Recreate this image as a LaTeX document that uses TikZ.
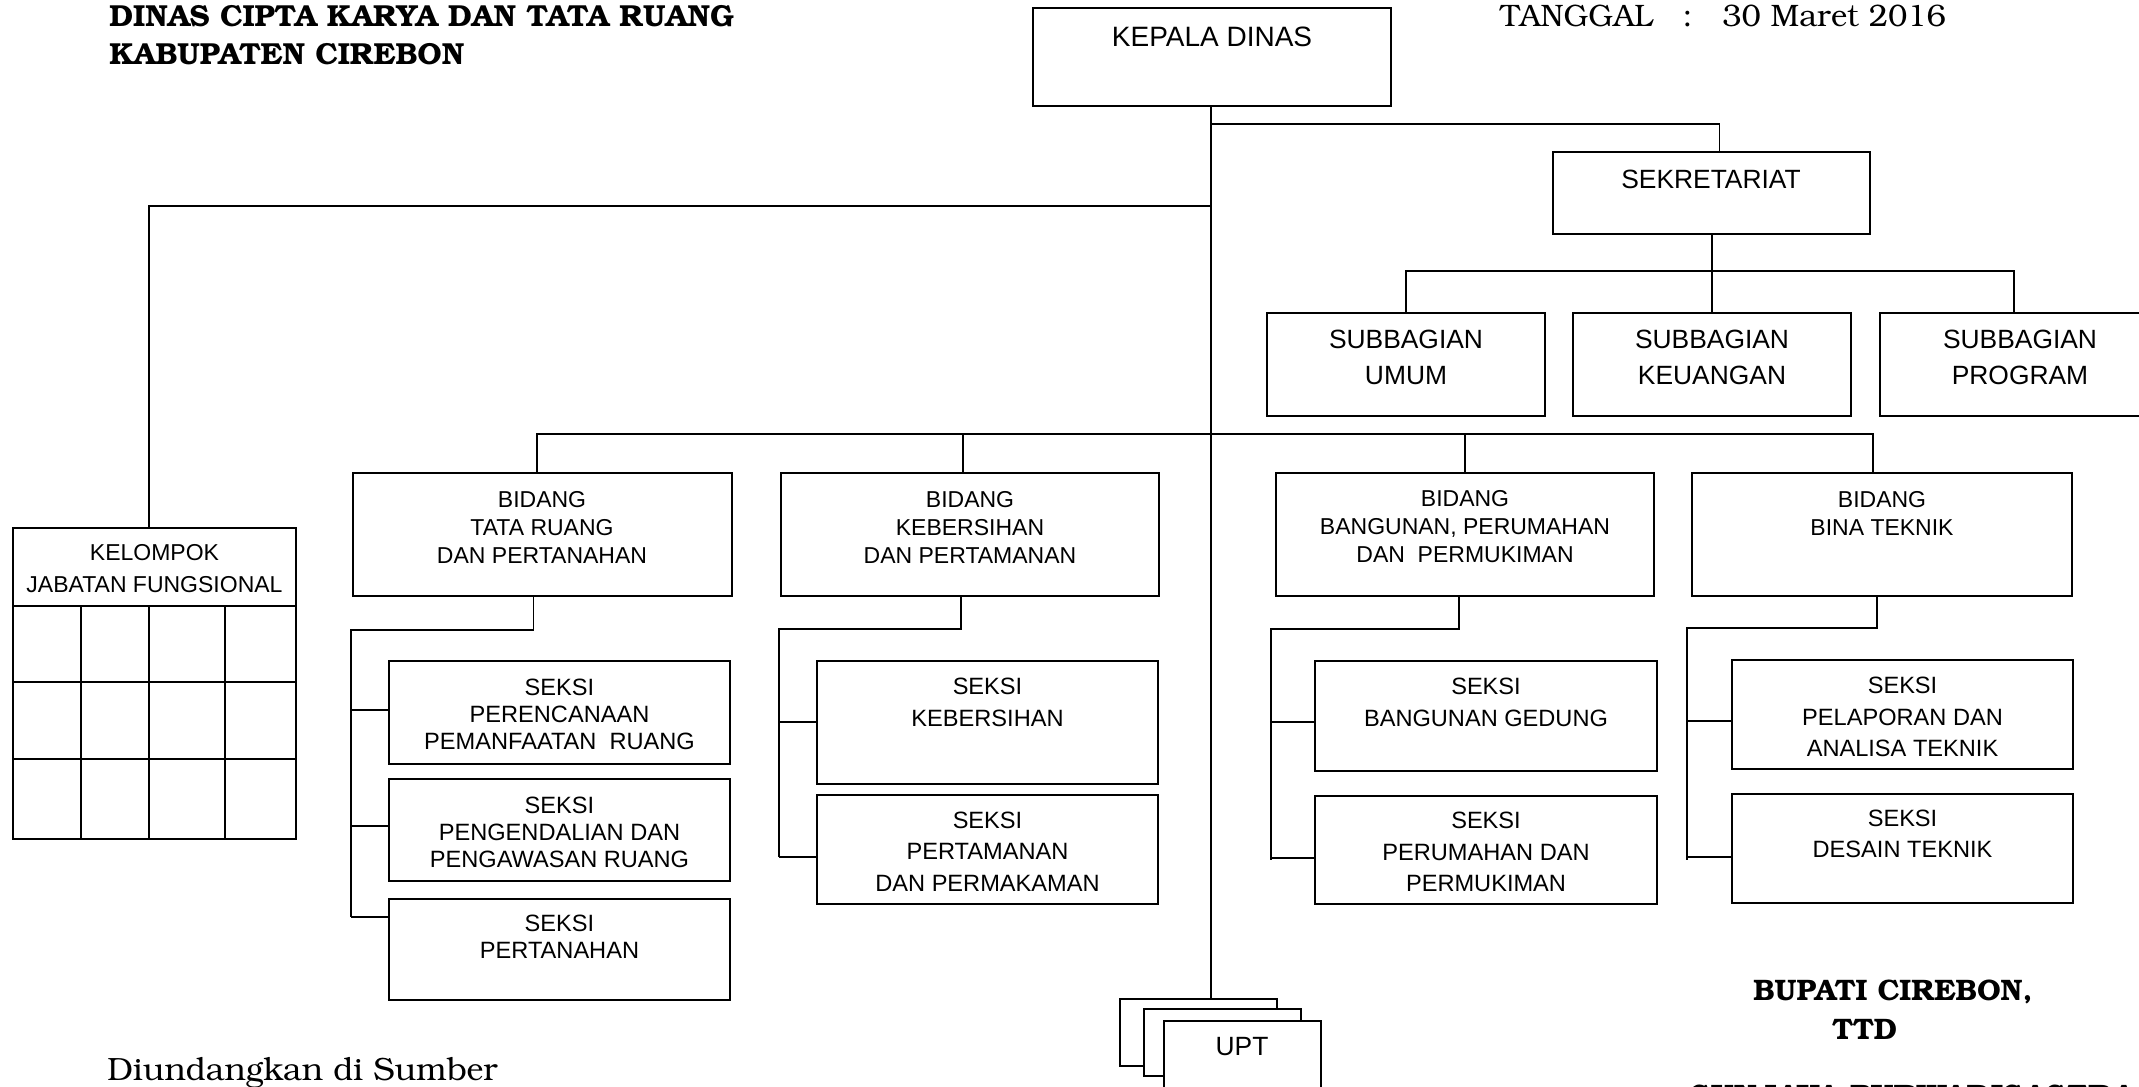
\documentclass[tikz,border=0pt]{standalone}
\usepackage[T1]{fontenc}
\usepackage{fontspec}
\newfontfamily\arial{Liberation Sans}
\newcommand\bkm{\fontencoding{T1}\fontfamily{pbk}\selectfont}
\newcommand\orgbox[5]{\node[box, minimum width={(#4-#2)*0.5pt}, minimum height={(#5-#3)*0.5pt}] (#1) at ({(#2+#4)/2},{(#3+#5)/2}) {};}
\begin{document}
\begin{tikzpicture}[x=0.5pt,y=-0.5pt,
  box/.style={draw, line width=0.9pt, inner sep=0pt, fill=white},
  conn/.style={line width=0.9pt},
  lbl/.style={align=center, inner sep=0pt},
  fA/.style={font=\arial\fontsize{14}{17}\selectfont},
  fB/.style={font=\arial\fontsize{13.2}{18}\selectfont},
  fC/.style={font=\arial\fontsize{11.5}{14}\selectfont},
  fK/.style={font=\arial\fontsize{11.5}{16}\selectfont},
  fS/.style={font=\arial\fontsize{11.8}{13.5}\selectfont},
  fT/.style={font=\arial\fontsize{11.8}{15.7}\selectfont},
  serifB/.style={inner sep=0pt, anchor=base west, font=\bkm\bfseries\fontsize{14.8}{17}\selectfont},
  serifR/.style={inner sep=0pt, anchor=base west, font=\bkm\fontsize{15.5}{17}\selectfont}]
\useasboundingbox (0,0) rectangle (2139,1086);
\fill[white] (0,0) rectangle (2139,1086);

% boxes
\orgbox{kd}{1033}{8}{1391}{106}
\orgbox{sek}{1553}{152}{1870}{234}
\orgbox{sbU}{1267}{313}{1545}{416}
\orgbox{sbK}{1573}{313}{1851}{416}
\orgbox{sbP}{1880}{313}{2158}{416}
\orgbox{kel}{13}{528}{296}{839}
\orgbox{bTR}{353}{473}{732}{596}
\orgbox{bKeb}{781}{473}{1159}{596}
\orgbox{bBang}{1276}{473}{1654}{596}
\orgbox{bBina}{1692}{473}{2072}{596}
\orgbox{s11}{389}{661}{730}{764}
\orgbox{s12}{389}{779}{730}{881}
\orgbox{s13}{389}{899}{730}{1000}
\orgbox{s21}{817}{661}{1158}{784}
\orgbox{s22}{817}{795}{1158}{904}
\orgbox{s31}{1315}{661}{1657}{771}
\orgbox{s32}{1315}{796}{1657}{904}
\orgbox{s41}{1732}{660}{2073}{769}
\orgbox{s42}{1732}{794}{2073}{903}
\orgbox{u1}{1120}{999}{1277}{1066}
\orgbox{u2}{1144}{1009}{1301}{1076}
\orgbox{u3}{1164}{1021}{1321}{1100}

% kelompok grid
\draw[conn] (13,606) -- (296,606);
\draw[conn] (13,682) -- (296,682);
\draw[conn] (13,759) -- (296,759);
\draw[conn] (81,606) -- (81,839);
\draw[conn] (149,606) -- (149,839);
\draw[conn] (225,606) -- (225,839);

% helper coordinates
\coordinate (ySek) at (0,124);
\coordinate (yKel) at (0,206);
\coordinate (ySub) at (0,271);
\coordinate (yBid) at (0,434);

% connectors
\draw[conn] ([xshift=-0.5pt]kd.south) -- ([xshift=-0.5pt]kd.south |- u1.north);
\draw[conn] ([xshift=-0.5pt]kd.south |- ySek) -| ([xshift=4pt]sek.north);
\draw[conn] ([xshift=-0.5pt]kd.south |- yKel) -| ([xshift=-2.75pt]kel.north);
\draw[conn] ([xshift=0.25pt]sek.south) -- ([xshift=0.25pt]sek.south |- ySub);
\draw[conn] (sbU.north) |- ([xshift=-2.5pt]sbP.north |- ySub) -- ([xshift=-2.5pt]sbP.north);
\draw[conn] (sbK.north) -- (sbK.north |- ySub);
\draw[conn] ([xshift=-2.75pt]bTR.north) |- ([xshift=-4.5pt]bBina.north |- yBid) -- ([xshift=-4.5pt]bBina.north);
\draw[conn] ([xshift=-3.5pt]bKeb.north) -- ([xshift=-3.5pt]bKeb.north |- yBid);
\draw[conn] (bBang.north) -- (bBang.north |- yBid);

% column spines
\coordinate (c1t) at (351,630); \coordinate (c1b) at (351,917);
\draw[conn] ([xshift=-4.5pt]bTR.south) |- (c1t) -- (c1b);
\draw[conn] (c1t |- 0,710) -- (s11.west |- 0,710);
\draw[conn] (c1t |- 0,826) -- (s12.west |- 0,826);
\draw[conn] (c1b) -- (c1b -| s13.west);

\coordinate (c2t) at (779,629); \coordinate (c2b) at (779,857);
\draw[conn] ([xshift=-4.5pt]bKeb.south) |- (c2t) -- (c2b);
\draw[conn] (c2t |- 0,722) -- (s21.west |- 0,722);
\draw[conn] (c2b) -- (c2b -| s22.west);

\coordinate (c3t) at (1271,629); \coordinate (c3b) at (1271,860);
\draw[conn] ([xshift=-3pt]bBang.south) |- (c3t) -- (c3b);
\draw[conn] (c3t |- 0,722) -- (s31.west |- 0,722);
\draw[conn] (c3t |- 0,858) -- (s32.west |- 0,858);

\coordinate (c4t) at (1687,628); \coordinate (c4b) at (1687,860);
\draw[conn] ([xshift=-2.5pt]bBina.south) |- (c4t) -- (c4b);
\draw[conn] (c4t |- 0,721) -- (s41.west |- 0,721);
\draw[conn] (c4t |- 0,857) -- (s42.west |- 0,857);

% box texts
\node[lbl,fA] (kdT) at (1212,37) {KEPALA DINAS};
\node[lbl,fB] (sekT) at (1711,179) {SEKRETARIAT};
\node[lbl,fB] (sbUT) at (1406,357) {SUBBAGIAN\\UMUM};
\node[lbl,fB] (sbKT) at (1712,357) {SUBBAGIAN\\KEUANGAN};
\node[lbl,fB] (sbPT) at (2020,357) {SUBBAGIAN\\PROGRAM};
\node[lbl,fK] (kelT) at (154.5,569) {KELOMPOK\\JABATAN FUNGSIONAL};
\node[lbl,fC] (bTRT) at (542,527) {BIDANG\\TATA RUANG\\DAN PERTANAHAN};
\node[lbl,fC] (bKebT) at (970,527) {BIDANG\\KEBERSIHAN\\DAN PERTAMANAN};
\node[lbl,fC] (bBangT) at (1465,527) {BIDANG\\BANGUNAN, PERUMAHAN\\DAN~~PERMUKIMAN};
\node[lbl,fC] (bBinaT) at (1882,513) {BIDANG\\BINA TEKNIK};
\node[lbl,fS] (s11T) at (559.5,714) {SEKSI\\PERENCANAAN\\PEMANFAATAN~~RUANG};
\node[lbl,fS] (s12T) at (559.5,832) {SEKSI\\PENGENDALIAN DAN\\PENGAWASAN RUANG};
\node[lbl,fS] (s13T) at (559.5,937) {SEKSI\\PERTANAHAN};
\node[lbl,fT] (s21T) at (987.5,702.5) {SEKSI\\KEBERSIHAN};
\node[lbl,fT] (s22T) at (987.5,851.5) {SEKSI\\PERTAMANAN\\DAN PERMAKAMAN};
\node[lbl,fT] (s31T) at (1486,702.5) {SEKSI\\BANGUNAN GEDUNG};
\node[lbl,fT] (s32T) at (1486,852) {SEKSI\\PERUMAHAN DAN\\PERMUKIMAN};
\node[lbl,fT] (s41T) at (1902.5,717) {SEKSI\\PELAPORAN DAN\\ANALISA TEKNIK};
\node[lbl,fT] (s42T) at (1902.5,834) {SEKSI\\DESAIN TEKNIK};
\node[lbl,fB] (uptT) at (1242,1047) {UPT};

% serif texts
\node[serifB, font=\bkm\bfseries\fontsize{15.2}{17}\selectfont] (title1) at (109,27) {DINAS CIPTA KARYA DAN TATA RUANG};
\node[serifB, font=\bkm\bfseries\fontsize{15.2}{17}\selectfont] (title2) at (109,65) {KABUPATEN CIREBON};
\node[serifR] (tgl) at (1500,27) {TANGGAL~~~:~~~30 Maret 2016};
\node[serifR, font=\bkm\fontsize{16.1}{18}\selectfont] (diund) at (107,1080) {Diundangkan di Sumber};
\node[serifB] (bup) at (1753,1000) {BUPATI CIREBON,};
\node[serifB] (ttd) at (1832,1039) {TTD};
\node[serifB, font=\bkm\bfseries\fontsize{15.5}{17}\selectfont] (sunj) at (1690,1106) {SUNJAYA PURWADISASTRA};
\end{tikzpicture}
\end{document}
